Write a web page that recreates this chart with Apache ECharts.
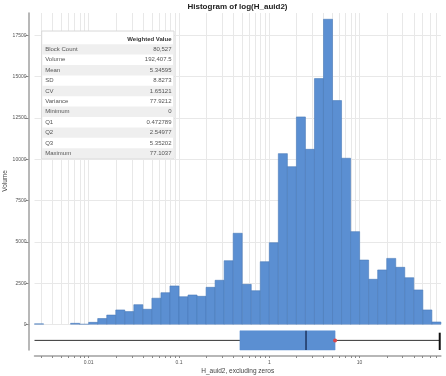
<!DOCTYPE html>
<html><head><meta charset="utf-8">
<script src="https://cdn.jsdelivr.net/npm/echarts@6/dist/echarts.min.js"></script>
<style>html,body{margin:0;padding:0;background:#fff}#c{width:446px;height:376px}</style>
</head><body><div id="c"></div><script>
// Histogram bins: lower edge in log10(H_auid2), bin width 0.1 (log10)
const binStartsLog = [-2.6,-2.2,-2.1,-2.0,-1.9,-1.8,-1.7,-1.6,-1.5,-1.4,-1.3,-1.2,-1.1,-1.0,-0.9,-0.8,-0.7,-0.6,-0.5,-0.4,-0.3,-0.2,-0.1,0.0,0.1,0.2,0.3,0.4,0.5,0.6,0.7,0.8,0.9,1.0,1.1,1.2,1.3,1.4,1.5,1.6,1.7,1.8];
const binWidthLog = 0.1;
const volumes = [40,70,20,130,360,570,880,780,1200,920,1590,1925,2330,1680,1785,1705,2250,2675,3860,5520,2430,2045,3800,4950,10340,9550,12560,10600,14880,18470,13550,10060,5620,3900,2735,3300,4000,3460,2830,2090,880,150];

// Axis ticks
const xLabelValues = [0.01, 0.1, 1, 10];
const xLabelTexts = ['0.01', '0.1', '1', '10'];
const xGridValues = [0.003,0.004,0.005,0.006,0.007,0.008,0.009,0.01,0.02,0.03,0.04,0.05,0.06,0.07,0.08,0.09,0.1,0.2,0.3,0.4,0.5,0.6,0.7,0.8,0.9,1,2,3,4,5,6,7,8,9,10,20,30,40,50,60,70];
const yTickValues = [0,2500,5000,7500,10000,12500,15000,17500];
const xMinLog = -2.6, xMaxLog = 1.9, yMax = 18850;

// Box plot stats
const boxLow = 0.0025, boxQ1 = 0.472789, boxQ2 = 2.54977, boxQ3 = 5.35202, boxHigh = 77.1037, boxMean = 5.34595;

// Stats table
const statNames = ['Block Count','Volume','Mean','SD','CV','Variance','Minimum','Q1','Q2','Q3','Maximum'];
const statValues = ['80,527','192,407.5','5.34595','8.8273','1.65121','77.9212','0','0.472789','2.54977','5.35202','77.1037'];

const L = Math.log10;
const FONT = '"Liberation Sans", Arial, sans-serif';
const chart = echarts.init(document.getElementById('c'), null, {renderer: 'canvas'});

const gridLeft = 34.5, gridRight = 5.1;
const axisGray = '#a0a0a0';

// table graphic
const tbl = [];
const tX = 41.7, tY = 31, tW = 132.3, headH = 13.2, rowH = 10.4;
tbl.push({type:'rect', shape:{x:tX, y:tY, width:tW, height:headH + rowH*statNames.length}, style:{fill:'#fff', stroke:'#d8d8d8', lineWidth:1}, z:100});
statNames.forEach((n, i) => {
  const ry = tY + headH + i*rowH;
  if (i % 2 === 0) tbl.push({type:'rect', shape:{x:tX+0.5, y:ry, width:tW-1, height:rowH}, style:{fill:'#efefef'}, z:101});
  tbl.push({type:'text', x:tX+3.5, y:ry+rowH/2, style:{text:n, font:'6px ' + FONT, fill:'#555', verticalAlign:'middle', align:'left'}, z:102});
  tbl.push({type:'text', x:tX+tW-2.5, y:ry+rowH/2, style:{text:statValues[i], font:'6px ' + FONT, fill:'#555', verticalAlign:'middle', align:'right'}, z:102});
});
tbl.push({type:'text', x:tX+tW-2.5, y:tY+8, style:{text:'Weighted Value', font:'bold 6px ' + FONT, fill:'#333', verticalAlign:'middle', align:'right'}, z:102});

const option = {
  animation: false,
  backgroundColor: '#fff',
  grid: [
    {left: gridLeft, right: gridRight, top: 13, height: 311.5},
    {left: gridLeft, right: gridRight, top: 325, height: 25}
  ],
  xAxis: [
    {type:'value', gridIndex:0, min:xMinLog, max:xMaxLog,
     axisLine:{show:false, onZero:false}, axisTick:{show:false, customValues: xGridValues.map(L)},
     axisLabel:{show:false}, splitLine:{show:true, lineStyle:{color:'#e8e8e8', width:1}}},
    {type:'value', gridIndex:1, min:xMinLog, max:xMaxLog, position:'bottom', offset:6,
     axisLine:{show:true, onZero:false, lineStyle:{color:axisGray, width:1.5}},
     axisTick:{show:true, length:2, lineStyle:{color:'#888', width:1}, customValues: xGridValues.map(L)},
     axisLabel:{show:true, customValues: xLabelValues.map(L), fontSize:5, color:'#555', margin:4, fontFamily:FONT,
       formatter: v => { const i = xLabelValues.findIndex(t => Math.abs(L(t) - v) < 1e-6); return i >= 0 ? xLabelTexts[i] : ''; }},
     splitLine:{show:false},
     name:'H_auid2, excluding zeros', nameLocation:'middle', nameGap:12,
     nameTextStyle:{fontSize:6.5, color:'#444', fontFamily:FONT}}
  ],
  yAxis: [
    {type:'value', gridIndex:0, min:0, max:yMax, offset:6, position:'left',
     axisLine:{show:true, onZero:false, lineStyle:{color:axisGray, width:1.5}},
     axisTick:{show:true, length:3, lineStyle:{color:'#888'}, customValues: yTickValues},
     axisLabel:{show:true, customValues: yTickValues, fontSize:5, color:'#555', margin:2, fontFamily:FONT, formatter: v => String(v)},
     splitLine:{show:true, lineStyle:{color:'#e8e8e8', width:1}}},
    {type:'value', gridIndex:1, min:0, max:1.3, offset:6, position:'left',
     axisLine:{show:true, onZero:false, lineStyle:{color:axisGray, width:1.5}},
     axisTick:{show:false}, axisLabel:{show:false}, splitLine:{show:false}}
  ],
  series: [
    {type:'custom', xAxisIndex:0, yAxisIndex:0, clip:true,
     data: binStartsLog.map((s, i) => [s, s + binWidthLog, volumes[i]]),
     encode:{x:[0,1], y:2},
     renderItem: (params, api) => {
       const p0 = api.coord([api.value(0), api.value(2)]);
       const p1 = api.coord([api.value(1), 0]);
       return {type:'rect', shape:{x:p0[0], y:p0[1], width:p1[0]-p0[0], height:p1[1]-p0[1]},
         style:{fill:'#5b8fd2', stroke:'#4a7bb8', lineWidth:0.6}};
     }},
    {type:'custom', xAxisIndex:1, yAxisIndex:1, clip:false,
     data: [[L(boxLow), L(boxQ1), L(boxQ2), L(boxQ3), L(boxHigh), L(boxMean)]],
     encode:{x:[0,1,2,3,4,5]},
     renderItem: (params, api) => {
       const c = (x, y) => api.coord([x, y]);
       const lo = api.value(0), q1 = api.value(1), q2 = api.value(2), q3 = api.value(3), hi = api.value(4), mn = api.value(5);
       const xl = Math.max(lo, xMinLog);
       const w0 = c(xl, 0.5), w1 = c(hi, 0.5);
       const b0 = c(q1, 1), b1 = c(q3, 0);
       const m0 = c(q2, 1), m1 = c(q2, 0);
       const cap0 = c(hi, 0.9), cap1 = c(hi, 0);
       const mp = c(mn, 0.5);
       return {type:'group', children:[
         {type:'line', shape:{x1:w0[0], y1:w0[1], x2:w1[0], y2:w1[1]}, style:{stroke:'#333', lineWidth:1}},
         {type:'rect', shape:{x:b0[0], y:b0[1], width:b1[0]-b0[0], height:b1[1]-b0[1]}, style:{fill:'#5b8fd2', stroke:'#5b8fd2', lineWidth:0.5}},
         {type:'line', shape:{x1:m0[0], y1:m0[1], x2:m1[0], y2:m1[1]}, style:{stroke:'#1d3560', lineWidth:1.5}},
         {type:'line', shape:{x1:cap0[0], y1:cap0[1], x2:cap1[0], y2:cap1[1]}, style:{stroke:'#111', lineWidth:2}},
         {type:'circle', shape:{cx:mp[0], cy:mp[1], r:2}, style:{fill:'#d8474c'}}
       ]};
     }}
  ],
  graphic: [
    {type:'text', x:237.5, y:6.5, style:{text:'Histogram of log(H_auid2)', font:'bold 8px ' + FONT, fill:'#222', align:'center', verticalAlign:'middle'}, z:100},
    {type:'text', x:5, y:181, rotation:Math.PI/2, style:{text:'Volume', font:'6.5px ' + FONT, fill:'#444', align:'center', verticalAlign:'middle'}, z:100},
    ...tbl
  ]
};
chart.setOption(option);
</script></body></html>
